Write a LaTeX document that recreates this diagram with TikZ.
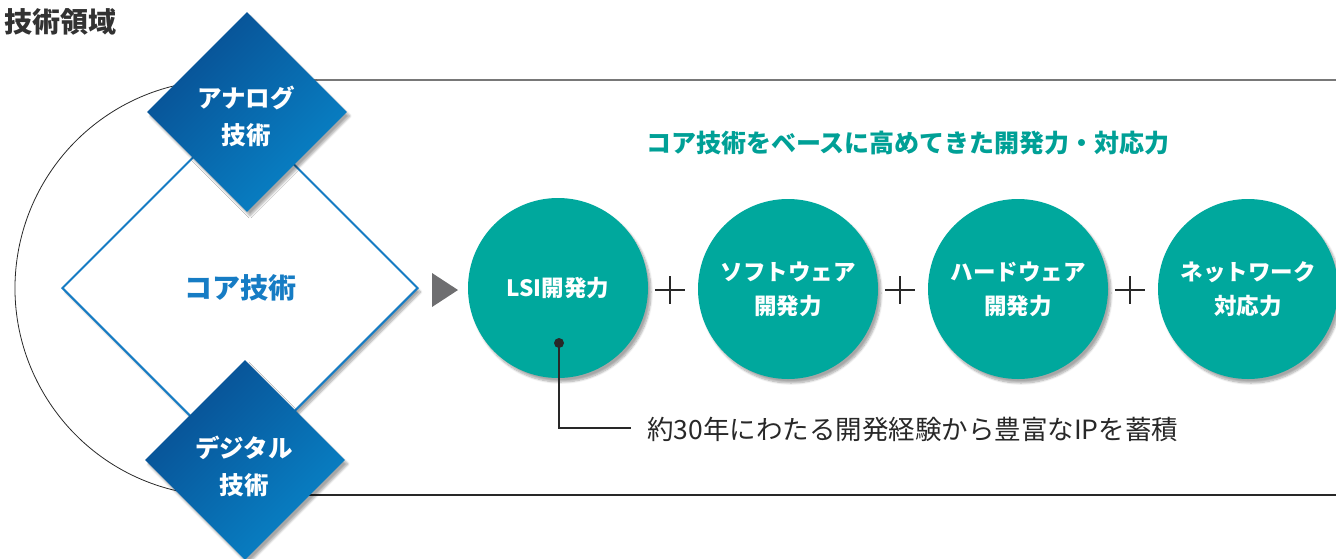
\documentclass[tikz,border=0pt]{standalone}
\usepackage{fontspec}
\setmainfont{Noto Sans CJK JP}
\usetikzlibrary{shapes.geometric,shadows.blur}
\definecolor{teal1}{RGB}{0,168,157}
\definecolor{tealtxt}{RGB}{0,160,150}
\definecolor{navy1}{RGB}{8,78,146}
\definecolor{blue2}{RGB}{8,132,200}
\definecolor{coreblue}{RGB}{22,124,196}
\definecolor{titlegray}{RGB}{50,50,50}
\definecolor{arrowgray}{RGB}{110,110,112}
\definecolor{linegray}{RGB}{120,120,120}
\definecolor{linedark}{RGB}{40,40,40}
\tikzset{
  softshadow/.style={blur shadow={shadow xshift=3pt,shadow yshift=-4pt,shadow blur steps=8,shadow opacity=35}},
  techdia/.style={diamond,aspect=1,inner sep=0pt,minimum width=200pt,minimum height=200pt,
    top color=navy1,bottom color=blue2,shading angle=45,softshadow},
  techtext/.style={text=white,align=center,inner sep=0pt,font=\fontsize{24.5}{37}\selectfont\bfseries},
  coredia/.style={diamond,aspect=1,inner sep=0pt,minimum width=356pt,minimum height=356pt,
    fill=white,draw=coreblue,line width=2pt,softshadow,
    text=coreblue,font=\fontsize{28}{30}\selectfont\bfseries},
  devcirc/.style={circle,inner sep=0pt,minimum size=180pt,fill=teal1,softshadow,
    text=white,align=center,font=\fontsize{22.5}{34}\selectfont\bfseries},
  plussign/.style={line width=1.9pt,draw=linedark},
  rule/.style={line width=1.2pt},
}
\begin{document}
\begin{tikzpicture}[x=1pt,y=-1pt]
\useasboundingbox (0,0) rectangle (1336,558);
% frame lines and arc
\draw[rule,draw=linegray] (300,80) -- (1336,80);
\draw[rule,draw=linedark] (300,495) -- (1336,495);
\draw[line width=0.8pt,draw=linedark] (223,288) ++(100:208) arc[start angle=100,end angle=260,radius=208];
% title
\node[anchor=west,text=titlegray,font=\fontsize{28}{30}\selectfont\bfseries,inner sep=0pt] (title) at (4,22) {技術領域};
% diamonds
\node[coredia] (core) at (240,288) {コア技術};
\node[techdia] (analog) at (247,112) {};
\node[techtext] (analogtxt) at (246,116) {アナログ\\技術};
\node[techdia] (digital) at (245,460) {};
\node[techtext] (digitaltxt) at (244,466) {デジタル\\技術};
% arrow triangle
\fill[arrowgray] (432,273) -- (458,290) -- (432,307) -- cycle;
% heading
\node[anchor=west,text=tealtxt,font=\fontsize{25}{28}\selectfont\bfseries,inner sep=0pt] (heading) at (646,143) {コア技術をベースに高めてきた開発力・対応力};
% circles
\node[devcirc] (lsi) at (558,288) {LSI開発力};
\node[devcirc] (soft) at (788,289) {ソフトウェア\\開発力};
\node[devcirc] (hard) at (1018,289) {ハードウェア\\開発力};
\node[devcirc] (net) at (1248,289) {ネットワーク\\対応力};
% plus signs
\foreach \px in {670,900,1130}{
  \draw[plussign] (\px-15,290) -- (\px+15,290);
  \draw[plussign] (\px,276) -- (\px,304);
}
% callout
\node[circle,fill=linedark,inner sep=0pt,minimum size=10pt] (dot) at (559,343) {};
\coordinate (elbowend) at (631,428);
\draw[line width=1.2pt,draw=linedark] (dot.center) |- (elbowend);
\node[anchor=west,inner sep=0pt,text=linedark,font=\fontsize{26.5}{30}\selectfont] (note) at (647,429) {約30年にわたる開発経験から豊富なIPを蓄積};
\end{tikzpicture}
\end{document}
